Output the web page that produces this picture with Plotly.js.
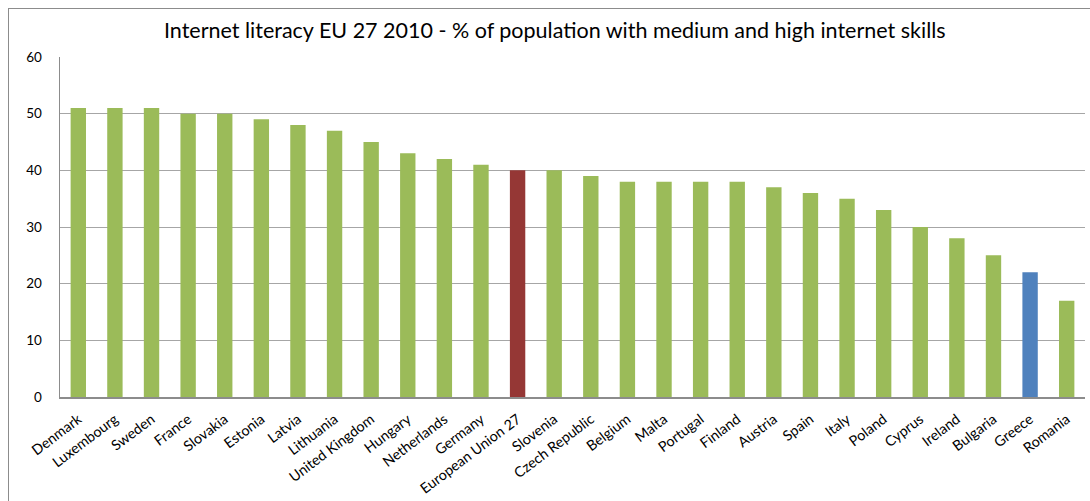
<!DOCTYPE html>
<html>
<head>
<meta charset="utf-8">
<script src="https://cdn.plot.ly/plotly-3.0.1.min.js"></script>
<style>
body{margin:0;padding:0;background:#fff;overflow:hidden;}
#chart{position:absolute;left:0;top:0;width:1090px;height:501px;}
#frame{position:absolute;left:8px;top:8px;width:1200px;height:700px;border-left:1.5px solid #8c8c8c;border-top:1.5px solid #8c8c8c;pointer-events:none;}
</style>
</head>
<body>
<div id="chart"></div>
<div id="frame"></div>
<script>
const countries = ["Denmark","Luxembourg","Sweden","France","Slovakia","Estonia","Latvia","Lithuania","United Kingdom","Hungary","Netherlands","Germany","European Union 27","Slovenia","Czech Republic","Belgium","Malta","Portugal","Finland","Austria","Spain","Italy","Poland","Cyprus","Ireland","Bulgaria","Greece","Romania"];
const values = [51,51,51,50,50,49,48,47,45,43,42,41,40,40,39,38,38,38,38,37,36,35,33,30,28,25,22,17];
const yTicks = [0,10,20,30,40,50,60];

const green = "#9BBB59", red = "#953735", blue = "#4F81BD";
const colors = countries.map(c => c === "European Union 27" ? red : (c === "Greece" ? blue : green));

const trace = {
  type: "bar",
  x: countries,
  y: values,
  marker: {color: colors, line: {width: 0}},
  hoverinfo: "x+y"
};

const FONT = "Lato, Open Sans, sans-serif";
const layout = {
  width: 1090, height: 501,
  margin: {l: 60, r: 5, t: 57, b: 104},
  paper_bgcolor: "#fff",
  plot_bgcolor: "#fff",
  bargap: 0.58,
  showlegend: false,
  font: {family: FONT, color: "#000"},
  title: {
    text: "Internet literacy EU 27 2010 - % of population with medium and high internet skills",
    x: 0.509, xanchor: "center", y: 0.94, yanchor: "middle",
    font: {size: 21.5, family: FONT, color: "#000"}
  },
  xaxis: {
    tickangle: -37,
    tickfont: {size: 14.3, family: FONT, color: "#000"},
    showgrid: false,
    showline: true, linecolor: "#8c8c8c", linewidth: 1.5,
    ticks: "", ticklabelstandoff: 7, automargin: false
  },
  yaxis: {
    range: [0, 60],
    tickvals: yTicks,
    ticktext: yTicks.map(String),
    tickfont: {size: 13.5, family: FONT, color: "#000"},
    showgrid: true, gridcolor: "#a6a6a6", gridwidth: 1,
    showline: true, linecolor: "#8c8c8c", linewidth: 1.5,
    zeroline: false,
    ticks: "", ticklabelstandoff: 14,
    automargin: false
  }
};

Plotly.newPlot("chart", [trace], layout, {displayModeBar: false, staticPlot: true});
</script>
</body>
</html>
